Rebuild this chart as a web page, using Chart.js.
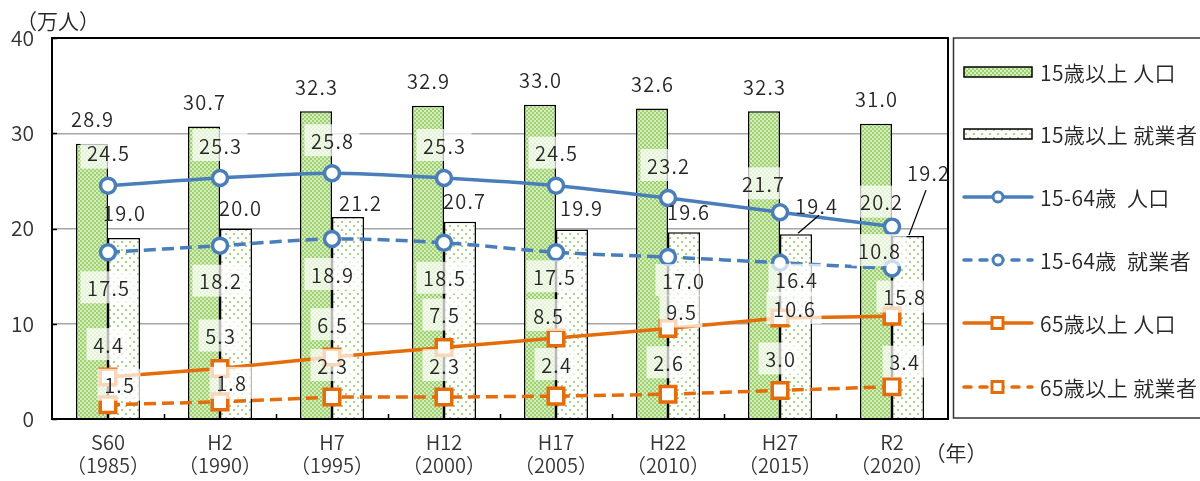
<!DOCTYPE html>
<html><head><meta charset="utf-8">
<script src="https://cdn.jsdelivr.net/npm/chart.js@4.4.1/dist/chart.umd.min.js"></script>
<style>html,body{margin:0;padding:0;background:#fff;overflow:hidden}</style>
</head><body>
<canvas id="c" width="1200" height="481" style="display:block;width:1200px;height:481px"></canvas>
<script>
// ---- data ----
const categories = [['S60','（1985）'],['H2','（1990）'],['H7','（1995）'],['H12','（2000）'],['H17','（2005）'],['H22','（2010）'],['H27','（2015）'],['R2','（2020）']];
const pop15   = [28.9, 30.7, 32.3, 32.9, 33.0, 32.6, 32.3, 31.0];
const emp15   = [19.0, 20.0, 21.2, 20.7, 19.9, 19.6, 19.4, 19.2];
const pop1564 = [24.5, 25.3, 25.8, 25.3, 24.5, 23.2, 21.7, 20.2];
const emp1564 = [17.5, 18.2, 18.9, 18.5, 17.5, 17.0, 16.4, 15.8];
const pop65   = [4.4, 5.3, 6.5, 7.5, 8.5, 9.5, 10.6, 10.8];
const emp65   = [1.5, 1.8, 2.3, 2.3, 2.4, 2.6, 3.0, 3.4];
const seriesNames = ['15歳以上 人口','15歳以上 就業者','15-64歳  人口','15-64歳  就業者','65歳以上 人口','65歳以上 就業者'];
const yTicks = [0, 10, 20, 30, 40];
const yUnit = '（万人）';
const xUnit = '（年）';

// ---- styles ----
const FONT = '"Noto Sans CJK JP", "Noto Sans", sans-serif';
const TEXT = '#262626';
const BLUE = '#4a7ebb';
const ORANGE = '#e46c0a';

function makePattern(w, h, draw) {
  const c = document.createElement('canvas'); c.width = w; c.height = h;
  const x = c.getContext('2d'); draw(x);
  return document.getElementById('c').getContext('2d').createPattern(c, 'repeat');
}
const greenPat = makePattern(4, 4, x => {
  x.fillStyle = '#d6edc2'; x.fillRect(0, 0, 4, 4);
  x.fillStyle = '#9dd16c'; x.fillRect(0, 0, 2, 2); x.fillRect(2, 2, 2, 2);
});
const dotPat = makePattern(8, 8, x => {
  x.fillStyle = '#ffffff'; x.fillRect(0, 0, 8, 8);
  x.fillStyle = '#a8d48a'; x.fillRect(1, 1, 2, 2); x.fillRect(5, 5, 2, 2);
});

// label placement (pixel offsets from the mark), per dataset, with per-index overrides
const labelLayout = [
  { dx: 0, dy: -25, bg: false },
  { dx: 4, dy: -21, bg: false, over: {0:[0,-26],2:[12,-15],4:[9,-22],6:[20,-29],7:[20,-64]},
    leader: {6:{s:[2,-1], e:[3,10]}, 7:{s:[1,-1], e:[-2,18]}} },
  { dx: 0, dy: -33, bg: true, over: {6:[-17,-29],7:[-11,-25]} },
  { dx: 0, dy: 35, bg: true, over: {4:[-2,24],5:[15,23],6:[16,17],7:[12,28]} },
  { dx: 0, dy: -33, bg: true, over: {4:[-8,-23],5:[13,-17],6:[14,-10],7:[-13,-66]} },
  { dx: 0, dy: -32, bg: true, over: {0:[11,-20],1:[11,-19],7:[12,-25]} }
];

function centeredText(ctx, txt, x, y, spacing) {
  ctx.letterSpacing = spacing + 'px';
  const w = ctx.measureText(txt).width - spacing;
  ctx.textAlign = 'left';
  ctx.fillText(txt, x - w / 2, y);
  ctx.letterSpacing = '0px';
  return w;
}

const labelPlugin = {
  id: 'labels',
  afterDatasetsDraw(chart) {
    const ctx = chart.ctx, a = chart.chartArea;
    ctx.save();
    ctx.strokeStyle = '#000'; ctx.lineWidth = 2;
    ctx.strokeRect(a.left, a.top, a.right - a.left, a.bottom - a.top);
    ctx.lineWidth = 1.5;
    const ys = chart.scales.y;
    const step = (a.right - a.left) / categories.length;
    for (let i = 1; i < categories.length; i++) {
      const x = Math.round(a.left + step * i) + 0.5;
      ctx.beginPath(); ctx.moveTo(x, a.bottom); ctx.lineTo(x, a.bottom - 5); ctx.stroke();
    }
    yTicks.forEach(v => {
      const y = Math.round(ys.getPixelForValue(v)) + 0.5;
      ctx.beginPath(); ctx.moveTo(a.left, y); ctx.lineTo(a.left + 5, y); ctx.stroke();
    });
    ctx.font = '350 20px ' + FONT;
    ctx.textBaseline = 'middle';
    chart.data.datasets.forEach((ds, d) => {
      const L = labelLayout[d], meta = chart.getDatasetMeta(d);
      meta.data.forEach((el, j) => {
        const o = (L.over && L.over[j]) || [L.dx, L.dy];
        const lx = el.x + o[0], ly = el.y + o[1];
        const txt = ds.data[j].toFixed(1);
        if (L.leader && L.leader[j]) {
          const q = L.leader[j];
          ctx.strokeStyle = '#000'; ctx.lineWidth = 1.3; ctx.setLineDash([]);
          ctx.beginPath(); ctx.moveTo(el.x + q.s[0], el.y + q.s[1]); ctx.lineTo(lx + q.e[0], ly + q.e[1]); ctx.stroke();
        }
        if (L.bg) {
          ctx.letterSpacing = '1.2px';
          const w = ctx.measureText(txt).width + 12;
          ctx.letterSpacing = '0px';
          ctx.fillStyle = 'rgba(255,255,255,0.72)';
          ctx.fillRect(lx - w / 2, ly - 16, w, 32);
        }
        ctx.fillStyle = TEXT;
        centeredText(ctx, txt, lx, ly + 1, 1.2);
      });
    });
    ctx.restore();
  },
  afterDraw(chart) {
    const ctx = chart.ctx;
    ctx.save();
    ctx.font = '350 21px ' + FONT; ctx.fillStyle = TEXT;
    ctx.textBaseline = 'middle';
    centeredText(ctx, yUnit, 58, 21, 0);
    centeredText(ctx, xUnit, 956, 453, 0);
    ctx.strokeStyle = '#333'; ctx.lineWidth = 1.5; ctx.setLineDash([]);
    ctx.strokeRect(953.5, 38, 262, 380);
    const ys = [72, 134, 197, 260, 323, 387];
    chart.data.datasets.forEach((ds, i) => {
      const y = ys[i];
      if (ds.type === 'bar') {
        ctx.fillStyle = ds.backgroundColor; ctx.fillRect(964, y - 5, 68, 10);
        ctx.strokeStyle = '#000'; ctx.lineWidth = 1.5; ctx.strokeRect(964, y - 5, 68, 10);
      } else {
        ctx.strokeStyle = ds.borderColor; ctx.lineWidth = 3.5; ctx.lineCap = 'round';
        ctx.setLineDash(ds.borderDash && ds.borderDash.length ? [7, 9] : []);
        ctx.beginPath(); ctx.moveTo(964, y); ctx.lineTo(1032, y); ctx.stroke();
        ctx.setLineDash([]); ctx.lineCap = 'butt';
        ctx.fillStyle = '#fff'; ctx.lineWidth = 3;
        if (ds.pointStyle === 'rect') {
          ctx.fillRect(992, y - 5.5, 11, 11); ctx.strokeRect(992, y - 5.5, 11, 11);
        } else {
          ctx.beginPath(); ctx.arc(998, y, 5, 0, Math.PI * 2); ctx.fill(); ctx.stroke();
        }
      }
      ctx.fillStyle = TEXT; ctx.textAlign = 'left';
      ctx.font = '350 21px ' + FONT;
      ctx.letterSpacing = '0.4px';
      ctx.fillText(ds.label, 1040, y + 1);
      ctx.letterSpacing = '0px';
    });
    ctx.restore();
  }
};

const lineDs = (label, data, color, dashed, style, tension) => ({
  type: 'line', label, data, order: 1,
  borderColor: color, borderWidth: 3.5, borderDash: dashed ? [12, 6] : [],
  pointStyle: style, pointRadius: style === 'rect' ? 11 : 7.5, pointBorderWidth: 3.5,
  pointBackgroundColor: '#fff', pointBorderColor: color, tension, fill: false
});

new Chart(document.getElementById('c'), {
  data: {
    labels: categories,
    datasets: [
      { type: 'bar', label: seriesNames[0], data: pop15, order: 2, backgroundColor: greenPat, borderColor: '#000', borderWidth: 1.5, categoryPercentage: 0.5714, barPercentage: 1 },
      { type: 'bar', label: seriesNames[1], data: emp15, order: 2, backgroundColor: dotPat, borderColor: '#000', borderWidth: 1.5, categoryPercentage: 0.5714, barPercentage: 1 },
      lineDs(seriesNames[2], pop1564, BLUE, false, 'circle', 0.3),
      lineDs(seriesNames[3], emp1564, BLUE, true, 'circle', 0.3),
      lineDs(seriesNames[4], pop65, ORANGE, false, 'rect', 0),
      lineDs(seriesNames[5], emp65, ORANGE, true, 'rect', 0)
    ]
  },
  options: {
    responsive: false, animation: false, devicePixelRatio: 1,
    layout: { padding: { top: 38, right: 252, left: 0, bottom: 0 } },
    plugins: { legend: { display: false }, tooltip: { enabled: false } },
    scales: {
      x: {
        grid: { display: false, drawTicks: false }, border: { display: false },
        ticks: { color: '#333', font: { family: FONT, size: 20, weight: 350, lineHeight: 1.15 }, padding: 12, maxRotation: 0, autoSkip: false },
        afterFit: s => { s.height = 62; }
      },
      y: {
        min: 0, max: 40,
        afterBuildTicks: s => { s.ticks = yTicks.map(v => ({ value: v })); },
        grid: { color: '#a6a6a6', lineWidth: 1.5, drawTicks: false }, border: { display: false },
        ticks: { color: '#333', font: { family: FONT, size: 21, weight: 350 }, padding: 18 },
        afterFit: s => { s.width = 52; }
      }
    }
  },
  plugins: [labelPlugin]
});
</script>
</body></html>
